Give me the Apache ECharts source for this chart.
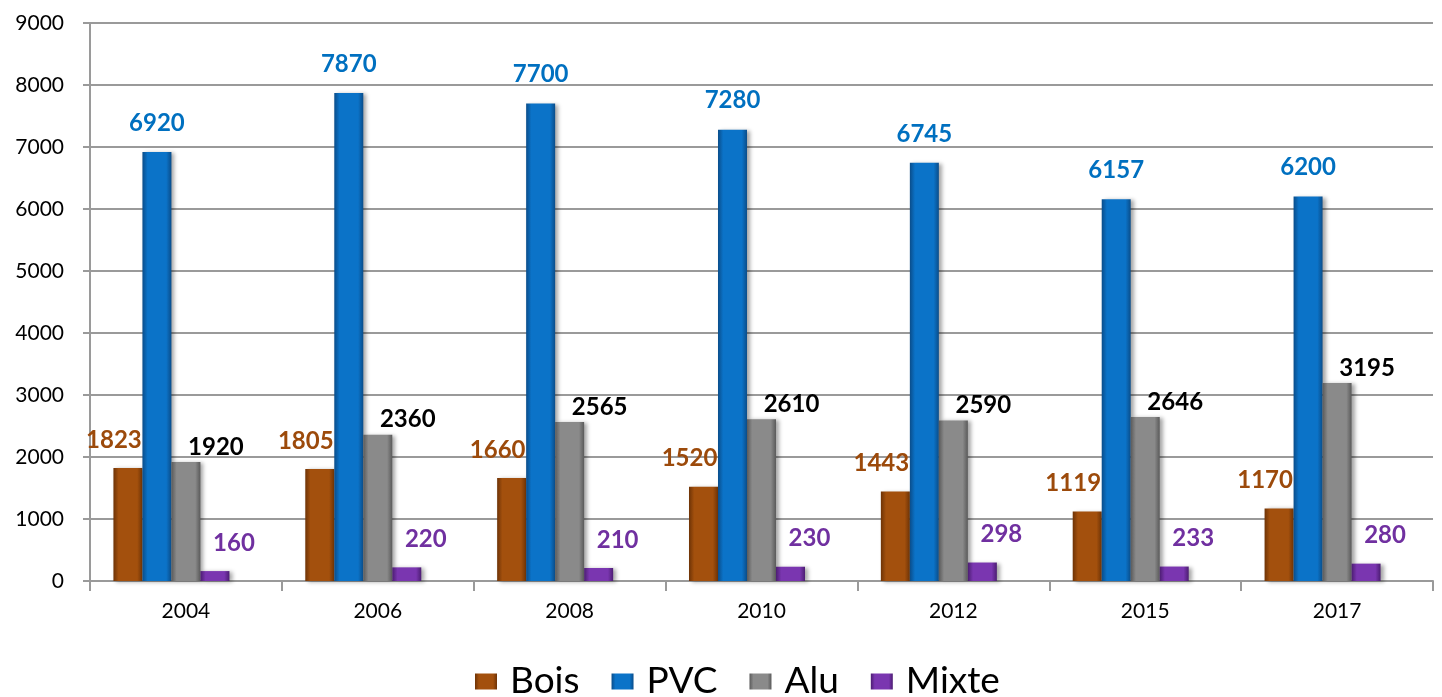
<!DOCTYPE html>
<html>
<head>
<meta charset="utf-8">
<script src="https://cdn.jsdelivr.net/npm/echarts@6/dist/echarts.min.js"></script>
<style>
  html, body { margin: 0; padding: 0; background: #fff; }
  #chart { width: 1442px; height: 697px; }
</style>
</head>
<body>
<div id="chart"></div>
<script>
// données
const years = ['2004', '2006', '2008', '2010', '2012', '2015', '2017']
const bois = [1823, 1805, 1660, 1520, 1443, 1119, 1170]
const pvc = [6920, 7870, 7700, 7280, 6745, 6157, 6200]
const alu = [1920, 2360, 2565, 2610, 2590, 2646, 3195]
const mixte = [160, 220, 210, 230, 298, 233, 280]

const FONT = 'Lato, "Open Sans", sans-serif'

// barre "3D" : bords plus sombres
const grad = (dark, mid) => new echarts.graphic.LinearGradient(0, 0, 1, 0, [
  { offset: 0, color: dark },
  { offset: 0.18, color: mid },
  { offset: 0.82, color: mid },
  { offset: 1, color: dark }
])

const mkSeries = (name, data, dark, mid, labelColor, offset) => ({
  name: name,
  type: 'bar',
  data: data,
  barWidth: 29,
  barGap: '0%',
  itemStyle: {
    color: grad(dark, mid),
    shadowColor: 'rgba(0,0,0,0.35)',
    shadowBlur: 4,
    shadowOffsetX: 3,
    shadowOffsetY: 1
  },
  label: {
    show: true,
    position: 'top',
    distance: 5,
    offset: offset,
    color: labelColor,
    fontFamily: FONT,
    fontWeight: 'bold',
    fontSize: 24
  }
})

const chart = echarts.init(document.getElementById('chart'))
chart.setOption({
  animation: false,
  grid: { left: 90, right: 9, top: 23, bottom: 116 },
  legend: {
    data: ['Bois', 'PVC', 'Alu', 'Mixte'],
    top: 658,
    left: 470,
    icon: 'rect',
    itemWidth: 22,
    itemHeight: 16,
    itemGap: 32,
    textStyle: { fontFamily: FONT, fontSize: 37, color: '#000', padding: [0, 0, 0, 8] }
  },
  xAxis: {
    type: 'category',
    data: years,
    axisLine: { lineStyle: { color: '#9a9a9a', width: 2 } },
    axisTick: { show: true, length: 10, lineStyle: { color: '#9a9a9a', width: 2 } },
    axisLabel: { color: '#000', fontFamily: FONT, fontSize: 21, margin: 20 }
  },
  yAxis: {
    type: 'value',
    min: 0,
    max: 9000,
    interval: 1000,
    axisLine: { show: true, lineStyle: { color: '#9a9a9a', width: 2 } },
    axisTick: { show: true, length: 7, lineStyle: { color: '#9a9a9a', width: 2 } },
    splitLine: { lineStyle: { color: '#9a9a9a', width: 2 } },
    axisLabel: {
      color: '#000', fontFamily: FONT, fontSize: 21, margin: 26,
      formatter: v => String(v)
    }
  },
  series: [
    mkSeries('Bois', bois, '#6e3306', '#a3500d', '#9c4a0b', [-14, -11]),
    mkSeries('PVC', pvc, '#0a4d8a', '#0b73c8', '#0070c0', [0, -12]),
    mkSeries('Alu', alu, '#5a5a5a', '#8a8a8a', '#000000', [30, 2]),
    mkSeries('Mixte', mixte, '#4c1d72', '#7a36b0', '#7030a0', [19, -11]),
    // série vide (emplacement réservé dans le graphique d'origine)
    { name: '', type: 'bar', data: years.map(() => null), barWidth: 29, barGap: '0%' }
  ]
})
</script>
</body>
</html>
